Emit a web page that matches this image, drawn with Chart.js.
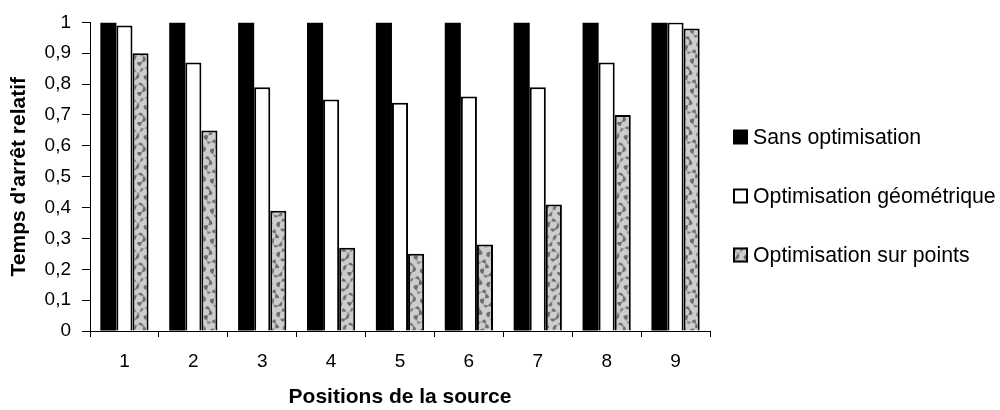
<!DOCTYPE html>
<html>
<head>
<meta charset="utf-8">
<script src="https://cdn.jsdelivr.net/npm/chart.js@4/dist/chart.umd.min.js"></script>
<style>
  html, body { margin: 0; padding: 0; background: #fff; }
  #wrap { width: 1000px; height: 410px; }
</style>
</head>
<body>
<div id="wrap"><canvas id="stopChart" width="1000" height="410"></canvas></div>
<script>
const positions = ['1', '2', '3', '4', '5', '6', '7', '8', '9'];
const sansOptimisation = [1, 1, 1, 1, 1, 1, 1, 1, 1];
const optimGeometrique = [0.99, 0.87, 0.79, 0.75, 0.74, 0.76, 0.79, 0.87, 1.0];
const optimPoints = [0.90, 0.65, 0.39, 0.27, 0.25, 0.28, 0.41, 0.70, 0.98];
const seriesNames = ['Sans optimisation', 'Optimisation géométrique', 'Optimisation sur points'];

(function() {
    Chart.defaults.font.family = "'Liberation Sans', Arial, sans-serif";
    Chart.defaults.color = '#000';

    // grey mottled texture for the third series
    function mottled() {
        const size = 30;
        const c = document.createElement('canvas');
        c.width = size; c.height = size;
        const g = c.getContext('2d');
        const img = g.createImageData(size, size);
        const w = 2 * Math.PI / size;
        const waves = [[3, 1, 0.0], [-2, 3, 1.1], [4, -2, 0.4], [1, 4, 2.2], [-3, -3, 3.0]];
        for (let y = 0; y < size; y++) {
            for (let x = 0; x < size; x++) {
                let v = 0;
                waves.forEach(([a, b, p]) => { v += Math.sin(w * (a * x + b * y) + p); });
                let t = (v - 0.2) / 2.0;
                t = Math.max(0, Math.min(1, t));
                t = t * t * (3 - 2 * t);
                const grey = 205 - 95 * t;
                const i = (y * size + x) * 4;
                img.data[i] = img.data[i + 1] = img.data[i + 2] = Math.round(grey);
                img.data[i + 3] = 255;
            }
        }
        g.putImageData(img, 0, 0);
        return g.createPattern(c, 'repeat');
    }
    const greyPattern = mottled();

    const sideLegend = {
        id: 'sideLegend',
        afterDraw(chart) {
            const ctx = chart.ctx;
            ctx.save();
            ctx.font = "21.3px 'Liberation Sans', Arial, sans-serif";
            ctx.textBaseline = 'middle';
            ctx.textAlign = 'left';
            chart.data.datasets.forEach((ds, i) => {
                const cy = 137 + i * 59;
                ctx.fillStyle = ds.backgroundColor;
                ctx.fillRect(733, cy - 7.5, 15, 15);
                if (ds.borderWidth) {
                    ctx.lineWidth = 2;
                    ctx.strokeStyle = '#000';
                    ctx.strokeRect(734, cy - 6.5, 13, 13);
                }
                ctx.fillStyle = '#000';
                ctx.fillText(ds.label, 753, cy + 1);
            });
            ctx.restore();
        }
    };

    const ctx = document.getElementById('stopChart').getContext('2d');

    const stopChart = new Chart(ctx, {
        type: 'bar',
        data: {
            labels: positions,
            datasets: [
                { label: seriesNames[0], data: sansOptimisation, backgroundColor: '#000', borderWidth: 0 },
                { label: seriesNames[1], data: optimGeometrique, backgroundColor: '#fff', borderColor: '#000', borderWidth: 2 },
                { label: seriesNames[2], data: optimPoints, backgroundColor: greyPattern, borderColor: '#000', borderWidth: 2 }
            ]
        },
        options: {
            responsive: false,
            animation: false,
            layout: { padding: { top: 18, right: 290, left: 0, bottom: 0 } },
            datasets: { bar: { categoryPercentage: 0.7, barPercentage: 1.0 } },
            plugins: { legend: { display: false }, tooltip: { enabled: false } },
            scales: {
                x: {
                    grid: { drawOnChartArea: false, drawTicks: true, tickLength: 6, color: '#000', offset: true },
                    border: { color: '#000', width: 1 },
                    ticks: { font: { size: 19 }, padding: 13, maxRotation: 0 },
                    title: { display: true, text: 'Positions de la source', font: { size: 21, weight: 'bold' }, padding: { top: 0, bottom: 0 } },
                    afterFit(scale) { scale.height = 410 - 331; }
                },
                y: {
                    min: 0,
                    max: 1,
                    grid: { drawOnChartArea: false, drawTicks: true, tickLength: 8, color: '#000' },
                    border: { color: '#000', width: 1 },
                    ticks: {
                        stepSize: 0.1,
                        font: { size: 19 },
                        padding: 11,
                        callback: v => String(Math.round(v * 10) / 10).replace('.', ',')
                    },
                    title: { display: true, text: "Temps d'arrêt relatif", font: { size: 21, weight: 'bold' }, padding: { top: 7, bottom: 0 } },
                    afterFit(scale) { scale.width = 90; }
                }
            }
        },
        plugins: [sideLegend]
    });
})();
</script>
</body>
</html>
